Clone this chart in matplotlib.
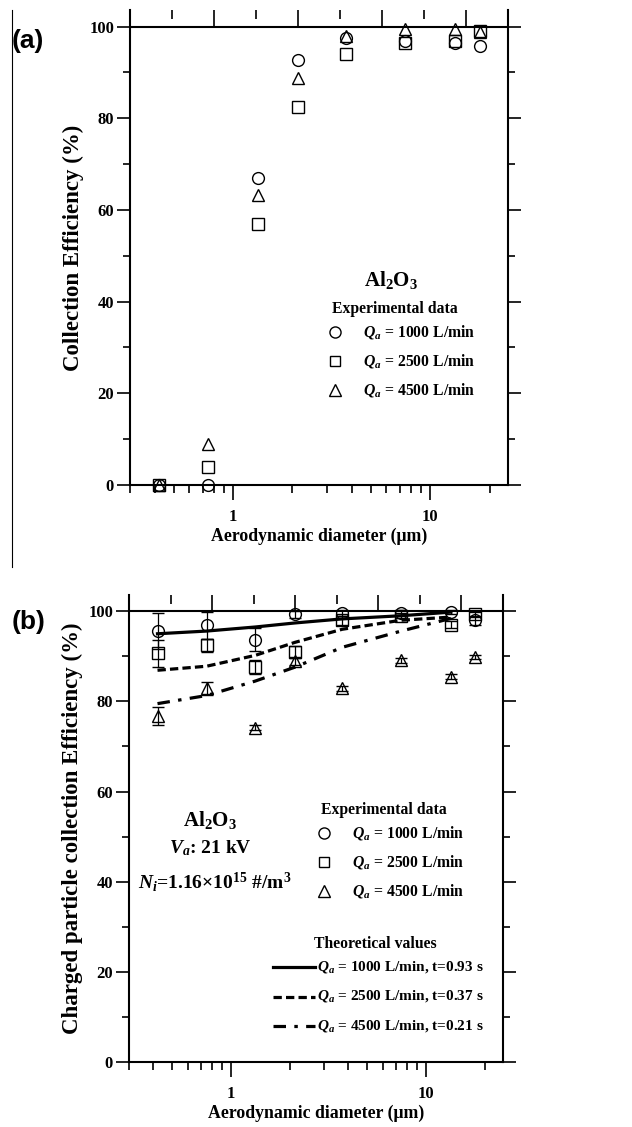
import matplotlib
matplotlib.use("Agg")
import matplotlib.pyplot as plt
from matplotlib.lines import Line2D
from matplotlib.ticker import FixedLocator, NullFormatter

plt.rcParams["font.family"] = ["Liberation Serif", "DejaVu Serif"]
plt.rcParams["font.weight"] = "bold"
plt.rcParams["axes.labelweight"] = "bold"
plt.rcParams["mathtext.fontset"] = "custom"
plt.rcParams["mathtext.rm"] = "Liberation Serif:bold"
plt.rcParams["mathtext.it"] = "Liberation Serif:italic:bold"
plt.rcParams["mathtext.bf"] = "Liberation Serif:bold"
plt.rcParams["lines.scale_dashes"] = False

# particle sizes (um)
diam = [0.42, 0.75, 1.33, 2.13, 3.72, 7.45, 13.4, 17.9]

# (a) collection efficiency (%)
eff_a_1000 = [0, 0, 67, 92.6, 97.6, 96.8, 96.5, 95.8]
eff_a_2500 = [0, 4, 57, 82.5, 93.9, 96.3, 96.8, 99.0]
eff_a_4500 = [0, 9, 63.3, 88.8, 98.0, 99.5, 99.4, 98.8]

# (b) charged particle collection efficiency (%) with error
eff_b_1000 = [95.6, 96.9, 93.7, 99.3, 99.6, 99.7, 99.8, 98.0]
err_b_1000 = [4.0, 3.0, 2.5, 0.8, 0.6, 0.5, 0.4, 1.0]
eff_b_2500 = [90.7, 92.4, 87.6, 91.0, 98.0, 99.0, 97.0, 99.3]
err_b_2500 = [3.0, 1.5, 1.5, 1.2, 1.0, 0.6, 0.8, 0.6]
eff_b_4500 = [76.7, 82.9, 74.2, 88.9, 82.9, 89.1, 85.5, 89.8]
err_b_4500 = [2.0, 1.5, 0.6, 0.8, 0.5, 0.5, 0.6, 0.5]

# theoretical curves
theory_d = [0.42, 0.75, 1.33, 2.13, 3.72, 7.45, 13.4]
theory_1000 = [95.0, 95.6, 96.5, 97.4, 98.3, 99.0, 99.8]
theory_2500 = [86.9, 87.8, 90.2, 93.1, 96.0, 98.0, 98.7]
theory_4500 = [79.5, 81.3, 84.5, 87.6, 92.0, 95.6, 98.4]

flows = ["1000", "2500", "4500"]
times = ["0.93", "0.37", "0.21"]
markers = ["o", "s", "^"]
msizes = [8.5, 8.0, 8.5]
styles = ["-", (0, (6, 3)), (0, (9, 6, 2.5, 6))]

W, H = 632, 1127
fig = plt.figure(figsize=(W / 100, H / 100), dpi=100)


def fx(px):
    return px / W


def fy(py):
    return 1 - py / H


def setup(ax):
    ax.set_xscale("log")
    ax.set_xlim(0.3, 24.8)
    ax.set_ylim(0, 103.6)
    ax.spines["top"].set_visible(False)
    for s in ["left", "right", "bottom"]:
        ax.spines[s].set_linewidth(1.5)
    ax.axhline(100, color="black", lw=1.5, zorder=1)
    ax.set_yticks([0, 20, 40, 60, 80, 100])
    ax.yaxis.set_minor_locator(FixedLocator([10, 30, 50, 70, 90]))
    ax.set_xticks([1, 10])
    ax.set_xticklabels(["1", "10"])
    ax.xaxis.set_minor_locator(FixedLocator([0.3, 0.4, 0.5, 0.6, 0.7, 0.8, 0.9,
                                             2, 3, 4, 5, 6, 7, 8, 9, 20]))
    ax.xaxis.set_minor_formatter(NullFormatter())
    ax.tick_params(axis="y", which="major", direction="out", length=9.5, width=1.2,
                   left=True, right=True, labelsize=12, pad=2)
    ax.tick_params(axis="y", which="minor", direction="out", length=5, width=1.2,
                   left=True, right=True)
    ax.tick_params(axis="x", which="major", direction="out", length=11, width=1.2,
                   labelsize=12, pad=6, top=False)
    ax.tick_params(axis="x", which="minor", direction="out", length=5.5, width=1.2,
                   top=False)
    # linear top ticks, as in the original
    top = ax.twiny()
    top.set_xlim(0, 9)
    top.spines["top"].set_visible(False)
    top.set_xticks([2, 4, 6, 8])
    top.xaxis.set_minor_locator(FixedLocator([1, 3, 5, 7]))
    top.tick_params(axis="x", which="major", direction="in", length=12, width=1.2,
                    labeltop=False)
    top.tick_params(axis="x", which="minor", direction="in", length=6.5, width=1.2)
    for s in ["left", "right", "bottom"]:
        top.spines[s].set_visible(False)
    return top


def marker_legend(ax, x0, y0, dy, title):
    fig.text(fx(x0 - 3), fy(y0 - dy * 0.8), title, fontsize=11.3, va="center")
    for i in range(3):
        fig.add_artist(Line2D([fx(x0)], [fy(y0 + i * dy)], marker=markers[i],
                              ms=msizes[i] - 0.5, mfc="none", mec="black", mew=1.0,
                              linestyle="none"))
        fig.text(fx(x0 + 28), fy(y0 + i * dy), "$Q_a$ = %s L/min" % flows[i],
                 fontsize=11.3, va="center")


# ---------------- panel (a)
ax1 = fig.add_axes([fx(130), fy(485), fx(378), 475 / H])
setup(ax1)
for vals, m, ms in zip([eff_a_1000, eff_a_2500, eff_a_4500], markers, msizes):
    ax1.plot(diam, vals, linestyle="none", marker=m, ms=ms, mfc="none",
             mec="black", mew=1.0, clip_on=False, zorder=3)
ax1.set_ylabel("Collection Efficiency (%)", fontsize=16.5, labelpad=4)
ax1.set_xlabel("Aerodynamic diameter (μm)", fontsize=12.8, labelpad=2)
fig.text(fx(391), fy(280), "Al$_2$O$_3$", fontsize=15, ha="center", va="center")
marker_legend(ax1, 335, 332, 29, "Experimental data")

fig.text(fx(12), fy(41), "(a)", fontsize=19, va="center", ha="left",
         family="Liberation Sans", weight="bold")
fig.add_artist(Line2D([fx(12), fx(12)], [fy(10), fy(567)], color="black", lw=0.8))

# ---------------- panel (b)
ax2 = fig.add_axes([fx(129), fy(1062), fx(374), 467 / H])
setup(ax2)
for vals, errs, m, ms in zip([eff_b_1000, eff_b_2500, eff_b_4500],
                             [err_b_1000, err_b_2500, err_b_4500], markers, msizes):
    ax2.errorbar(diam, vals, yerr=errs, linestyle="none", marker=m, ms=ms,
                 mfc="none", mec="black", mew=1.0, ecolor="black", elinewidth=0.9,
                 capsize=4, capthick=0.9, clip_on=False, zorder=3)
for vals, ls in zip([theory_1000, theory_2500, theory_4500], styles):
    ax2.plot(theory_d, vals, color="black", lw=2.3, linestyle=ls, zorder=4)
ax2.set_ylabel("Charged particle collection Efficiency (%)", fontsize=16.5, labelpad=4)
ax2.set_xlabel("Aerodynamic diameter (μm)", fontsize=12.8, labelpad=2)

fig.text(fx(210), fy(820), "Al$_2$O$_3$", fontsize=15, ha="center", va="center")
fig.text(fx(210), fy(848), "$V_a$: 21 kV", fontsize=14, ha="center", va="center")
fig.text(fx(138), fy(882), "$N_i$=1.16×10$^{15}$ #/m$^3$", fontsize=14,
         ha="left", va="center")
marker_legend(ax2, 324, 833, 29, "Experimental data")

fig.text(fx(375), fy(944), "Theoretical values", fontsize=11.3, ha="center", va="center")
for i in range(3):
    yy = 967 + i * 29.5
    fig.add_artist(Line2D([fx(273), fx(315)], [fy(yy), fy(yy)], color="black",
                          lw=2.3, linestyle=styles[i]))
    fig.text(fx(317), fy(yy), "$Q_a$ = %s L/min, t=%s s" % (flows[i], times[i]),
             fontsize=11, va="center")

fig.text(fx(12), fy(622), "(b)", fontsize=19, va="center", ha="left",
         family="Liberation Sans", weight="bold")

fig.savefig("out.png", dpi=100)
